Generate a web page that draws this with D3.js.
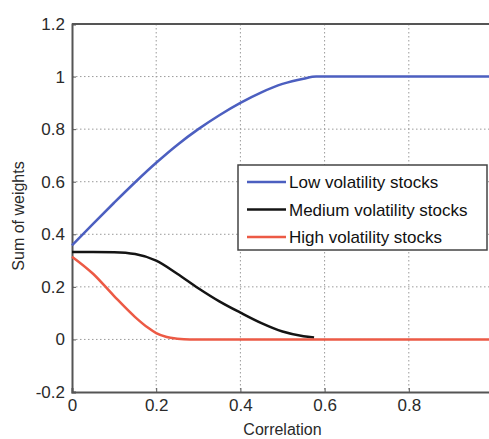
<!DOCTYPE html>
<html>
<head>
<meta charset="utf-8">
<script src="https://cdn.jsdelivr.net/npm/d3@7"></script>
<style>
  body { margin: 0; background: #fff; }
  text { font-family: "Liberation Sans", Arial, sans-serif; }
</style>
</head>
<body>
<div id="chart"></div>
<script>
// data
var x_ticks = [0, 0.2, 0.4, 0.6, 0.8, 1];
var y_ticks = [-0.2, 0, 0.2, 0.4, 0.6, 0.8, 1, 1.2];

var low_x = [0, 0.05, 0.1, 0.15, 0.2, 0.25, 0.3, 0.35, 0.4, 0.45, 0.5, 0.55, 0.58, 0.6, 0.8, 1];
var low_y = [0.358, 0.44, 0.52, 0.598, 0.672, 0.74, 0.8, 0.853, 0.9, 0.94, 0.972, 0.992, 1, 1, 1, 1];

var med_x = [0, 0.05, 0.1, 0.15, 0.2, 0.25, 0.3, 0.35, 0.4, 0.45, 0.5, 0.55, 0.575];
var med_y = [0.333, 0.333, 0.332, 0.325, 0.3, 0.25, 0.195, 0.145, 0.102, 0.062, 0.03, 0.012, 0.007];

var high_x = [0, 0.05, 0.1, 0.15, 0.18, 0.2, 0.225, 0.25, 0.28, 0.6, 1];
var high_y = [0.315, 0.25, 0.165, 0.085, 0.045, 0.024, 0.009, 0.003, 0, 0, 0];

var series_labels = ['Low volatility stocks', 'Medium volatility stocks', 'High volatility stocks'];
var series_colours = ['#4c5fc0', '#141414', '#ec5a45'];

var width = 489, height = 439;
var plot_left = 72, plot_top = 24, plot_right = 493, plot_bottom = 392;

var svg = d3.select('#chart').append('svg')
  .attr('width', width)
  .attr('height', height);

var x = d3.scaleLinear().domain([0, 1]).range([plot_left, plot_right]);
var y = d3.scaleLinear().domain([-0.2, 1.2]).range([plot_bottom, plot_top]);

// dotted grid
var grid = svg.append('g').attr('class', 'grid')
  .attr('stroke', '#9a9a9a')
  .attr('stroke-width', 1)
  .attr('stroke-dasharray', '1.5,2.5');
grid.selectAll('line.gx')
  .data(x_ticks.slice(1))
  .join('line')
  .attr('class', 'gx')
  .attr('x1', d => x(d)).attr('x2', d => x(d))
  .attr('y1', plot_top).attr('y2', plot_bottom);
grid.selectAll('line.gy')
  .data(y_ticks.slice(1, -1))
  .join('line')
  .attr('class', 'gy')
  .attr('x1', plot_left).attr('x2', plot_right)
  .attr('y1', d => y(d)).attr('y2', d => y(d));

// axes (plain hyphen for the minus, like the original)
var fmt = d => (d === 0 ? '0' : d3.format('.1f')(d).replace(/\.0$/, '').replace('\u2212', '-'));
var x_axis = svg.append('g')
  .attr('transform', 'translate(0,' + plot_bottom + ')')
  .call(d3.axisBottom(x).tickValues(x_ticks).tickSize(-4).tickPadding(9).tickFormat(fmt));
var y_axis = svg.append('g')
  .attr('transform', 'translate(' + plot_left + ',0)')
  .call(d3.axisLeft(y).tickValues(y_ticks).tickSize(-4).tickPadding(7).tickFormat(fmt));
[x_axis, y_axis].forEach(function(ax) {
  ax.select('.domain').attr('stroke', '#555').attr('stroke-width', 2);
  ax.selectAll('.tick line').attr('stroke', '#555');
  ax.selectAll('text')
    .attr('font-size', 17)
    .attr('fill', '#2a2a2a')
    .style('font-family', '"Liberation Sans", Arial, sans-serif');
});
x_axis.selectAll('text').attr('dy', '0.6em');

// top border
svg.append('line')
  .attr('x1', plot_left).attr('x2', plot_right)
  .attr('y1', plot_top).attr('y2', plot_top)
  .attr('stroke', '#555').attr('stroke-width', 2);

// axis titles
svg.append('text')
  .attr('x', (plot_left + plot_right) / 2)
  .attr('y', 435)
  .attr('text-anchor', 'middle')
  .attr('font-size', 16)
  .attr('fill', '#2a2a2a')
  .text('Correlation');
svg.append('text')
  .attr('transform', 'translate(24,' + ((plot_top + plot_bottom) / 2 + 8) + ') rotate(-90)')
  .attr('text-anchor', 'middle')
  .attr('font-size', 16)
  .attr('fill', '#2a2a2a')
  .text('Sum of weights');

// curves
var series = [
  low_x.map((d, i) => [d, low_y[i]]),
  med_x.map((d, i) => [d, med_y[i]]),
  high_x.map((d, i) => [d, high_y[i]])
];
var line = d3.line()
  .x(d => x(d[0]))
  .y(d => y(d[1]))
  .curve(d3.curveMonotoneX);
svg.append('g').attr('class', 'lines')
  .selectAll('path')
  .data(series)
  .join('path')
  .attr('d', line)
  .attr('fill', 'none')
  .attr('stroke', (d, i) => series_colours[i])
  .attr('stroke-width', 2.5);

// legend
var legend = svg.append('g').attr('class', 'legend');
legend.append('rect')
  .attr('x', 238).attr('y', 165)
  .attr('width', 249).attr('height', 85)
  .attr('fill', '#fff')
  .attr('stroke', '#444')
  .attr('stroke-width', 1.5);
var rows = legend.selectAll('g.row')
  .data(series_labels)
  .join('g')
  .attr('class', 'row')
  .attr('transform', (d, i) => 'translate(247,' + (182 + i * 27.5) + ')');
rows.append('line')
  .attr('x1', 0).attr('x2', 39)
  .attr('stroke', (d, i) => series_colours[i])
  .attr('stroke-width', 2.5);
rows.append('text')
  .attr('x', 42)
  .attr('dy', '0.36em')
  .attr('font-size', 17)
  .attr('fill', '#111')
  .text(d => d);
</script>
</body>
</html>
